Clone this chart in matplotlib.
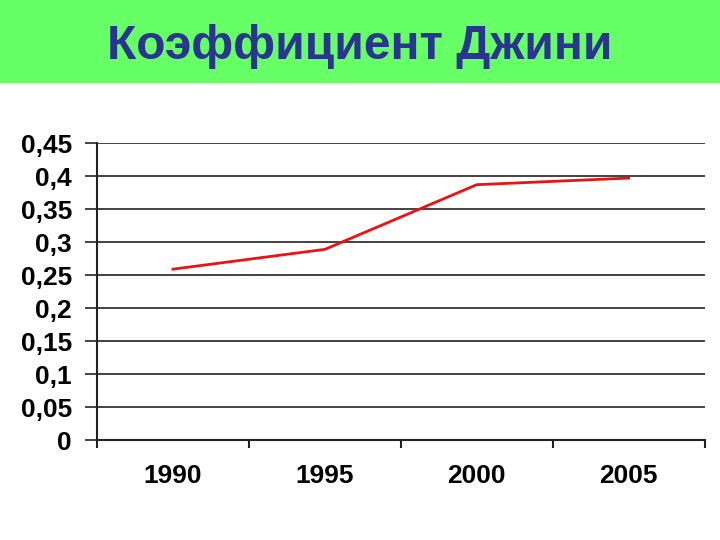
import matplotlib.pyplot as plt
from matplotlib.ticker import FuncFormatter

# data
years = ["1990", "1995", "2000", "2005"]
gini = [0.259, 0.289, 0.387, 0.397]
y_ticks = [0, 0.05, 0.1, 0.15, 0.2, 0.25, 0.3, 0.35, 0.4, 0.45]

plt.rcParams["font.family"] = ["Liberation Sans", "DejaVu Sans"]

fig = plt.figure(figsize=(7.2, 5.4), dpi=100)

# green title banner
banner = fig.add_axes([0, 0.846, 1, 0.154])
banner.set_facecolor("#66ff66")
banner.set_xticks([])
banner.set_yticks([])
for s in banner.spines.values():
    s.set_visible(False)
banner.text(0.5, 0.44, "Коэффициент Джини", ha="center", va="center",
            fontsize=34.5, fontweight="bold", color="#2b3590",
            transform=banner.transAxes)

ax = fig.add_axes([0.1347, 0.185, 0.844, 0.55])
x = list(range(len(years)))
ax.plot(x, gini, color="#ee1111", lw=2)

ax.set_xlim(-0.5, len(years) - 0.5)
ax.set_ylim(0, 0.45)
ax.set_yticks(y_ticks)
ax.yaxis.set_major_formatter(FuncFormatter(lambda v, p: ("%g" % round(v, 2)).replace(".", ",")))
ax.grid(axis="y", color="#222222", lw=1.2)
ax.set_axisbelow(True)

ax.set_xticks(x)
ax.set_xticklabels(years)
ax.set_xticks([i - 0.5 for i in range(len(years) + 1)], minor=True)
ax.tick_params(axis="x", which="major", length=0, pad=17)
ax.tick_params(axis="x", which="minor", length=6, width=1.5, color="#222222")
ax.tick_params(axis="y", length=9, width=1.2, color="#222222", pad=9)
for lab in ax.get_xticklabels() + ax.get_yticklabels():
    lab.set_fontsize(19)
    lab.set_fontweight("bold")

for side in ["top", "right"]:
    ax.spines[side].set_visible(False)
ax.spines["left"].set_color("#222222")
ax.spines["left"].set_linewidth(1.5)
ax.spines["bottom"].set_color("#222222")
ax.spines["bottom"].set_linewidth(1.5)

fig.savefig("out.png", dpi=100)
